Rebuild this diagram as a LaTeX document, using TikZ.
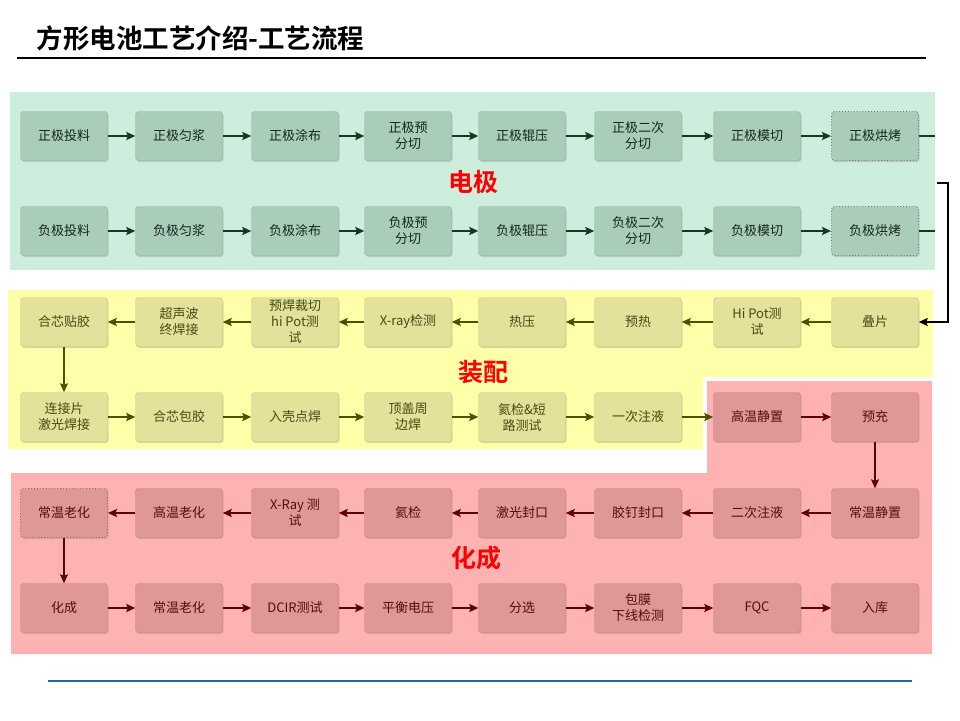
\documentclass[tikz,border=0pt]{standalone}
\usepackage{fontspec}
\setmainfont{Noto Sans CJK SC}[BoldFont={Noto Sans CJK SC Bold}]
\usetikzlibrary{shadows,arrows.meta}
\definecolor{gbg}{HTML}{CDEEDD}
\definecolor{gfill}{HTML}{A9CDB9}
\definecolor{gline}{HTML}{8FB39F}
\definecolor{gtext}{HTML}{14261B}
\definecolor{garrow}{HTML}{163822}
\definecolor{ybg}{HTML}{FFFFAA}
\definecolor{yfill}{HTML}{E2E29A}
\definecolor{yline}{HTML}{C8C880}
\definecolor{ytext}{HTML}{4A4A12}
\definecolor{yarrow}{HTML}{4F4F00}
\definecolor{pbg}{HTML}{FFB2B2}
\definecolor{pfill}{HTML}{E09797}
\definecolor{pline}{HTML}{C88080}
\definecolor{ptext}{HTML}{5A0A0A}
\definecolor{parrow}{HTML}{600000}
\definecolor{footline}{HTML}{1F6A9A}
\begin{document}
\begin{tikzpicture}[x=1pt,y=-1pt,>={Stealth[length=9pt,width=8pt,inset=1.5pt]},
  box/.style={rounded corners=3pt,minimum width=87pt,minimum height=49pt,inner sep=0pt,align=center,
    font=\fontsize{13}{16}\selectfont,drop shadow={opacity=0.3,shadow xshift=1pt,shadow yshift=-1.5pt}},
  gbox/.style={box,fill=gfill,draw=gline,text=gtext},
  ybox/.style={box,fill=yfill,draw=yline,text=ytext},
  pbox/.style={box,fill=pfill,draw=pline,text=ptext},
  dotbox/.style={dotted,line width=0.9pt,draw=black!55},
  garr/.style={->,draw=garrow,fill=garrow,line width=1.8pt},
  yarr/.style={->,draw=yarrow,fill=yarrow,line width=1.8pt},
  parr/.style={->,draw=parrow,fill=parrow,line width=1.8pt},
  sect/.style={text=red,font=\fontsize{25}{25}\selectfont\bfseries}]
  \useasboundingbox (0,0) rectangle (960,720);
  \node[anchor=west,font=\fontsize{26.5}{26.5}\selectfont\bfseries] (title) at (33,38) {方形电池工艺介绍-工艺流程};
  \draw[line width=2pt] (17,58) -- (926,58);
  \draw[footline,line width=1.5pt] (48,681) -- (912,681);
  \fill[gbg] (10,92) rectangle (935,270);
  \fill[ybg] (8,290) -- (933,290) -- (933,377) -- (703,377) -- (703,449) -- (8,449) -- cycle;
  \fill[pbg] (707,381) -- (932,381) -- (932,654) -- (11,654) -- (11,473) -- (707,473) -- cycle;
  \node[sect] (s1) at (473,182) {电极};
  \node[sect] (s2) at (483,372) {装配};
  \node[sect] (s3) at (476,558) {化成};
  \foreach \t [count=\c] in {正极投料,正极匀浆,正极涂布,{正极预\\分切},正极辊压,{正极二次\\分切},正极模切}
    {\pgfmathsetmacro\xx{{64,179,295,408,522,638,757,875}[\c-1]}
     \node[gbox] (a\c) at (\xx,136) {\t};}
  \node[gbox,dotbox] (a8) at (875,136) {正极烘烤};
  \foreach \t [count=\c] in {负极投料,负极匀浆,负极涂布,{负极预\\分切},负极辊压,{负极二次\\分切},负极模切}
    {\pgfmathsetmacro\xx{{64,179,295,408,522,638,757,875}[\c-1]}
     \node[gbox] (b\c) at (\xx,231) {\t};}
  \node[gbox,dotbox] (b8) at (875,231) {负极烘烤};
  \foreach \t [count=\c] in {合芯贴胶,{超声波\\终焊接},{预焊裁切\\hi Pot测\\试},X-ray检测,热压,预热,{Hi Pot测\\试},叠片}
    {\pgfmathsetmacro\xx{{64,179,295,408,522,638,757,875}[\c-1]}
     \node[ybox] (c\c) at (\xx,322) {\t};}
  \foreach \t [count=\c] in {{连接片\\激光焊接},合芯包胶,入壳点焊,{顶盖周\\边焊},{氦检\&短\\路测试},一次注液}
    {\pgfmathsetmacro\xx{{64,179,295,408,522,638,757,875}[\c-1]}
     \node[ybox] (d\c) at (\xx,417) {\t};}
  \node[pbox] (d7) at (757,417) {高温静置};
  \node[pbox] (d8) at (875,417) {预充};
  \node[pbox,dotbox] (e1) at (64,513) {常温老化};
  \foreach \t [count=\c from 2] in {高温老化,{X-Ray 测\\试},氦检,激光封口,胶钉封口,二次注液,常温静置}
    {\pgfmathsetmacro\xx{{64,179,295,408,522,638,757,875}[\c-1]}
     \node[pbox] (e\c) at (\xx,513) {\t};}
  \foreach \t [count=\c] in {化成,常温老化,DCIR测试,平衡电压,分选,{包膜\\下线检测},FQC,入库}
    {\pgfmathsetmacro\xx{{64,179,295,408,522,638,757,875}[\c-1]}
     \node[pbox] (f\c) at (\xx,608) {\t};}
  \foreach \i [count=\j from 2] in {1,...,7} {
    \draw[garr] (a\i) -- (a\j);
    \draw[garr] (b\i) -- (b\j);
    \draw[yarr] (c\j) -- (c\i);
    \draw[parr] (e\j) -- (e\i);
    \draw[parr] (f\i) -- (f\j);}
  \foreach \i [count=\j from 2] in {1,...,5} \draw[yarr] (d\i) -- (d\j);
  \draw[yarr] (d6) -- (d7);
  \draw[parr] (d7) -- (d8);
  \coordinate (ea) at (935,136);
  \coordinate (eb) at (935,231);
  \coordinate (j) at (937,183);
  \draw[garr,-] (a8) -- (ea);
  \draw[garr,-] (b8) -- (eb);
  \draw[->,line width=1.8pt] (j) -- ++(11,0) |- (c8.east);
  \draw[yarr,line width=1.3pt] (c1) -- (d1);
  \draw[parr,line width=1.3pt] (d8) -- (e8);
  \draw[parr,line width=1.3pt] (e1) -- (f1);
\end{tikzpicture}
\end{document}
